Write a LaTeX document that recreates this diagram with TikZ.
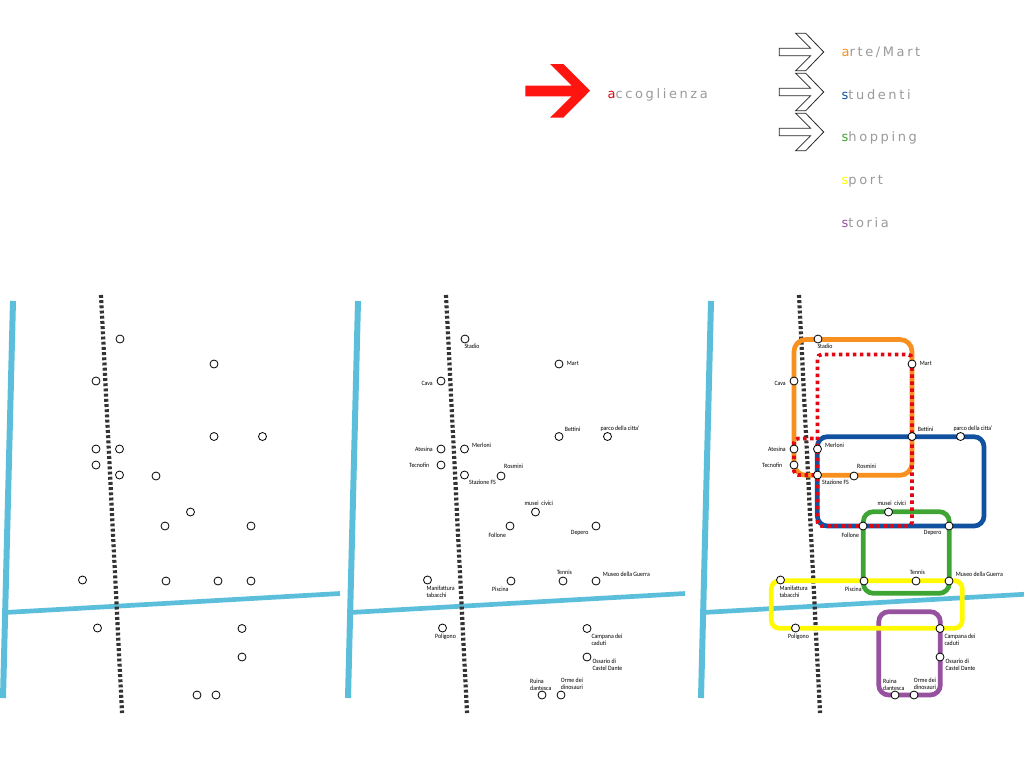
\documentclass[tikz,border=0pt]{standalone}
\usepackage{fontspec}
\setmainfont[FakeStretch=0.9]{Carlito}
\newfontfamily\legendfont[LetterSpace=20]{DejaVu Sans}
\definecolor{river}{HTML}{5BBFDC}
\definecolor{railc}{HTML}{333333}
\definecolor{lorange}{HTML}{F7901E}
\definecolor{lblue}{HTML}{11519F}
\definecolor{lgreen}{HTML}{3EA535}
\definecolor{lyellow}{HTML}{FFFA00}
\definecolor{lpurple}{HTML}{96529F}
\definecolor{lred}{HTML}{E30613}
\definecolor{arrowred}{HTML}{FF1510}
\definecolor{legendgrey}{HTML}{9A9A9A}
\tikzset{
  x=1pt,y=-1pt,
  riverv/.style={draw=river,line width=6pt},
  riverh/.style={draw=river,line width=4.7pt},
  rail/.style={draw=railc,line width=4.2pt,dash pattern=on 2.9pt off 2.3pt},
  station/.style={circle,draw=black,fill=white,line width=0.8pt,minimum size=8pt,inner sep=0pt},
  stlabel/.style={anchor=west,inner sep=0pt,font=\fontsize{6.5}{7}\selectfont,text=black,align=left},
  route/.style={line width=4.7pt,rounded corners=#1},
  redroute/.style={draw=lred,line width=3.8pt,dash pattern=on 3.5pt off 3.5pt,rounded corners=4pt},
  legend/.style={anchor=base west,inner sep=0pt,font=\legendfont\fontsize{13}{15}\selectfont,text=legendgrey},
  chevron/.style={draw=black!85,fill=white,line width=0.8pt,line join=miter},
}
\newcommand{\mapbase}[1]{%
  \begin{scope}[xshift=#1pt]
    \draw[riverv] (13,301) -- (3,698);
    \draw[riverh] (5,612.5) -- (340,593.5);
    \draw[rail] (101,295) -- (122,713);
  \end{scope}}
\newcommand{\mapstations}[2]{%
  \begin{scope}[xshift=#2pt]
    \node[station] (#1stadio) at (120,339) {};
    \node[station] (#1mart) at (214,364) {};
    \node[station] (#1cava) at (96,381) {};
    \node[station] (#1bettini) at (214,436.5) {};
    \node[station] (#1parco) at (262.5,436.5) {};
    \node[station] (#1atesina) at (96,449) {};
    \node[station] (#1merloni) at (119.5,449) {};
    \node[station] (#1tecnofin) at (96,465) {};
    \node[station] (#1stazione) at (119.5,475) {};
    \node[station] (#1rosmini) at (156,476) {};
    \node[station] (#1musei) at (190.5,512) {};
    \node[station] (#1follone) at (165,526) {};
    \node[station] (#1depero) at (251,526) {};
    \node[station] (#1manifattura) at (82.5,580) {};
    \node[station] (#1piscina) at (166,581) {};
    \node[station] (#1tennis) at (218,581) {};
    \node[station] (#1museo) at (251,581) {};
    \node[station] (#1poligono) at (97.5,628) {};
    \node[station] (#1campana) at (242,628.5) {};
    \node[station] (#1ossario) at (242,657) {};
    \node[station] (#1ruina) at (197,695) {};
    \node[station] (#1orme) at (216,695) {};
  \end{scope}}
\newcommand{\maplabels}[2]{%
  \begin{scope}[xshift=#2pt]
    \node[stlabel] (#1lstadio) at (119.3,346) {Stadio};
    \node[stlabel] (#1lmart) at (221.7,363.3) {Mart};
    \node[stlabel] (#1lcava) at (76.3,383) {Cava};
    \node[stlabel] (#1lbettini) at (219.7,429) {Bettini};
    \node[stlabel] (#1lparco) at (255.3,428.3) {parco della citta'};
    \node[stlabel] (#1latesina) at (70,449) {Atesina};
    \node[stlabel] (#1lmerloni) at (127,445) {Merloni};
    \node[stlabel] (#1ltecnofin) at (64,465) {Tecnofin};
    \node[stlabel] (#1lstazione) at (124,482.3) {Stazione FS};
    \node[stlabel] (#1lrosmini) at (159,466.3) {Rosmini};
    \node[stlabel] (#1lmusei) at (179.3,503.7) {musei\ \ civici};
    \node[stlabel] (#1lfollone) at (143.3,535.3) {Follone};
    \node[stlabel] (#1ldepero) at (225.7,533.3) {Depero};
    \node[stlabel] (#1lmanifattura) at (81.3,592.2) {Manifattura\\tabacchi};
    \node[stlabel] (#1lpiscina) at (147,589.7) {Piscina};
    \node[stlabel] (#1ltennis) at (211.7,572.3) {Tennis};
    \node[stlabel] (#1lmuseo) at (257.7,574) {Museo della Guerra};
    \node[stlabel] (#1lpoligono) at (90,637) {Poligono};
    \node[stlabel] (#1lcampana) at (246.3,639.5) {Campana dei\\caduti};
    \node[stlabel] (#1lossario) at (247.3,665.2) {Ossario di\\Castel Dante};
    \node[stlabel] (#1lruina) at (185,684.8) {Ruina\\dantesca};
    \node[stlabel] (#1lorme) at (215.7,684.2) {Orme dei\\dinosauri};
  \end{scope}}
\newcommand{\chevronarrow}[1]{%
  \begin{scope}[yshift=-#1pt]
    \draw[chevron] (779.3,48.3) -- (810.7,48.3) -- (795.7,33.3) -- (805.7,33.3) -- (823.7,52)
      -- (805.7,70.7) -- (795.7,70.7) -- (810.7,55.7) -- (779.3,55.7) -- cycle;
  \end{scope}}
\begin{document}
\begin{tikzpicture}
\useasboundingbox (0,0) rectangle (1024,768);
\fill[white] (0,0) rectangle (1024,768);
% red arrow and legend
\fill[arrowred] (525.3,85.7) -- (571.7,85.7) -- (550,64) -- (563.3,64) -- (590,90.7)
  -- (563.3,117.7) -- (550,117.7) -- (571.7,96.3) -- (525.3,96.3) -- cycle;
\chevronarrow{0}
\chevronarrow{40}
\chevronarrow{80}
\node[legend] (laccoglienza) at (607.5,98) {\textcolor{lred}{a}ccoglienza};
\node[legend] (larte) at (841.5,56.5) {\textcolor{lorange}{a}rte/Mart};
\node[legend] (lstudenti) at (841.5,99) {\textcolor{lblue}{s}tudenti};
\node[legend] (lshopping) at (841.5,141.5) {\textcolor{lgreen}{s}hopping};
\node[legend] (lsport) at (841.5,184.5) {\textcolor{lyellow}{s}port};
\node[legend] (lstoria) at (841.5,227.5) {\textcolor{lpurple}{s}toria};
% panels
\mapbase{0}
\mapbase{345}
\begin{scope}[xshift=698pt]
  \draw[riverv] (13,301) -- (3,698);
  \draw[riverh] (5,612.5) -- (326,594.3);
  \draw[rail] (101,295) -- (122,713);
\end{scope}
% routes
\draw[lpurple,route=10pt] (878.7,611.7) rectangle (940.3,695);
\draw[lorange,route=12pt] (794,339.5) rectangle (912,475.3);
\draw[lgreen,route=10pt] (863.3,511.7) rectangle (949.3,593.3);
\draw[lblue,route=10pt] (817.3,436.7) rectangle (984,526);
\draw[lyellow,route=8pt] (771.3,580.7) rectangle (962.3,628.3);
\draw[redroute] (817.5,475) -- (817.5,354.5) -- (912,354.5) -- (912,526) -- (817.5,526) -- (817.5,475)
  -- (794,475) -- (794,438.5) -- (817.5,438.5);
% stations and labels
\mapstations{a}{0}
\mapstations{b}{345}
\mapstations{c}{698}
\maplabels{b}{345}
\maplabels{c}{698}
\end{tikzpicture}
\end{document}
